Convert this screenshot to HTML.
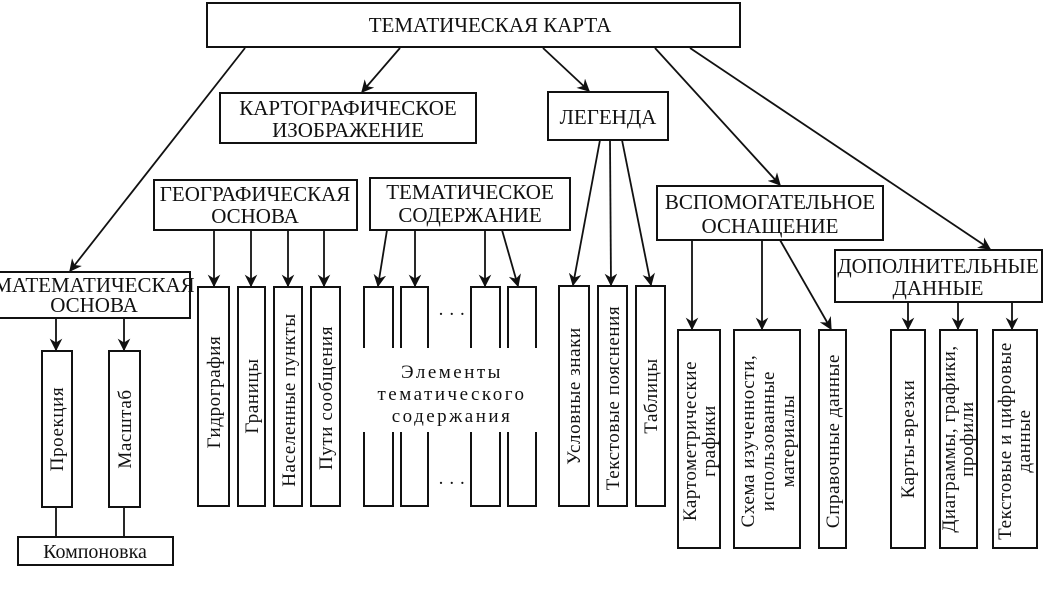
<!DOCTYPE html>
<html><head><meta charset="utf-8"><style>
body{margin:0;background:#fff;}
svg{display:block}
text{font-family:"Liberation Serif",serif;fill:#111;}
.b{fill:#fff;stroke:#111;stroke-width:2}
.l{stroke:#111;stroke-width:1.8;fill:none}
.h{font-size:21px;text-anchor:middle}
.v{font-size:19px;text-anchor:middle;letter-spacing:0.6px}
</style></head><body>
<svg width="1048" height="591" viewBox="0 0 1048 591" xmlns="http://www.w3.org/2000/svg">
<defs><marker id="a" viewBox="0 0 10 10" refX="9" refY="5" markerWidth="7" markerHeight="7" orient="auto"><path d="M0,0 L10,5 L0,10 L3,5 z" fill="#111"/></marker></defs>
<g class="l" marker-end="url(#a)">
<line x1="245" y1="48" x2="70" y2="271"/>
<line x1="400" y1="48" x2="362" y2="92"/>
<line x1="543" y1="48" x2="589" y2="91"/>
<line x1="655" y1="48" x2="780" y2="185"/>
<line x1="690" y1="48" x2="990" y2="249"/>
<line x1="214" y1="230" x2="214" y2="286"/>
<line x1="251" y1="230" x2="251" y2="286"/>
<line x1="288" y1="230" x2="288" y2="286"/>
<line x1="324" y1="230" x2="324" y2="286"/>
<line x1="387" y1="230" x2="378" y2="286"/>
<line x1="415" y1="230" x2="415" y2="286"/>
<line x1="485" y1="230" x2="485" y2="286"/>
<line x1="502" y1="230" x2="518" y2="286"/>
<line x1="600" y1="140" x2="573" y2="285"/>
<line x1="610" y1="140" x2="611" y2="285"/>
<line x1="622" y1="140" x2="651" y2="285"/>
<line x1="692" y1="240" x2="692" y2="329"/>
<line x1="762" y1="240" x2="762" y2="329"/>
<line x1="780" y1="240" x2="831" y2="329"/>
<line x1="908" y1="302" x2="908" y2="329"/>
<line x1="958" y1="302" x2="958" y2="329"/>
<line x1="1012" y1="302" x2="1012" y2="329"/>
<line x1="56" y1="318" x2="56" y2="350"/>
<line x1="124" y1="318" x2="124" y2="350"/>
</g>
<line class="l" x1="56" y1="507" x2="56" y2="537"/>
<line class="l" x1="124" y1="507" x2="124" y2="537"/>
<rect class="b" x="207" y="3" width="533" height="44"/>
<text class="h" x="490" y="32">ТЕМАТИЧЕСКАЯ КАРТА</text>
<rect class="b" x="220" y="93" width="256" height="50"/>
<text class="h" x="348" y="115">КАРТОГРАФИЧЕСКОЕ</text>
<text class="h" x="348" y="137">ИЗОБРАЖЕНИЕ</text>
<rect class="b" x="548" y="92" width="120" height="48"/>
<text class="h" x="608" y="124">ЛЕГЕНДА</text>
<rect class="b" x="154" y="180" width="203" height="50"/>
<text class="h" x="255" y="201">ГЕОГРАФИЧЕСКАЯ</text>
<text class="h" x="255" y="223">ОСНОВА</text>
<rect class="b" x="370" y="178" width="200" height="52"/>
<text class="h" x="470" y="199">ТЕМАТИЧЕСКОЕ</text>
<text class="h" x="470" y="222">СОДЕРЖАНИЕ</text>
<rect class="b" x="657" y="186" width="226" height="54"/>
<text class="h" x="770" y="209">ВСПОМОГАТЕЛЬНОЕ</text>
<text class="h" x="770" y="233">ОСНАЩЕНИЕ</text>
<rect class="b" x="835" y="250" width="207" height="52"/>
<text class="h" x="938" y="273">ДОПОЛНИТЕЛЬНЫЕ</text>
<text class="h" x="938" y="295">ДАННЫЕ</text>
<rect class="b" x="-2" y="272" width="192" height="46"/>
<text class="h" x="94" y="292">МАТЕМАТИЧЕСКАЯ</text>
<text class="h" x="94" y="312">ОСНОВА</text>
<rect class="b" x="18" y="537" width="155" height="28"/>
<text class="h" x="95" y="558" style="font-size:20px">Компоновка</text>
<g>
<rect class="b" x="42" y="351" width="30" height="156"/>
<rect class="b" x="109" y="351" width="31" height="156"/>
<rect class="b" x="198" y="287" width="31" height="219"/>
<rect class="b" x="238" y="287" width="27" height="219"/>
<rect class="b" x="274" y="287" width="28" height="219"/>
<rect class="b" x="311" y="287" width="29" height="219"/>
<rect class="b" x="364" y="287" width="29" height="219"/>
<rect class="b" x="401" y="287" width="27" height="219"/>
<rect class="b" x="471" y="287" width="29" height="219"/>
<rect class="b" x="508" y="287" width="28" height="219"/>
<rect x="360" y="348" width="180" height="84" fill="#fff"/>
<rect class="b" x="559" y="286" width="30" height="220"/>
<rect class="b" x="598" y="286" width="29" height="220"/>
<rect class="b" x="636" y="286" width="29" height="220"/>
<rect class="b" x="678" y="330" width="42" height="218"/>
<rect class="b" x="734" y="330" width="66" height="218"/>
<rect class="b" x="819" y="330" width="27" height="218"/>
<rect class="b" x="891" y="330" width="34" height="218"/>
<rect class="b" x="940" y="330" width="37" height="218"/>
<rect class="b" x="993" y="330" width="44" height="218"/>
</g>
<text x="452" y="315" class="v">. . .</text>
<text x="452" y="484" class="v">. . .</text>
<text class="v" x="452" y="378" style="letter-spacing:2.5px">Элементы</text>
<text class="v" x="452" y="400" style="letter-spacing:2.5px">тематического</text>
<text class="v" x="452" y="422" style="letter-spacing:2.5px">содержания</text>
<g>
<text class="v" transform="translate(63,429) rotate(-90)">Проекция</text>
<text class="v" transform="translate(131,429) rotate(-90)">Масштаб</text>
<text class="v" transform="translate(220,392) rotate(-90)">Гидрография</text>
<text class="v" transform="translate(258,396) rotate(-90)">Границы</text>
<text class="v" transform="translate(295,400) rotate(-90)">Населенные пункты</text>
<text class="v" transform="translate(332,398) rotate(-90)">Пути сообщения</text>
<text class="v" transform="translate(580,396) rotate(-90)">Условные знаки</text>
<text class="v" transform="translate(619,398) rotate(-90)">Текстовые пояснения</text>
<text class="v" transform="translate(657,396) rotate(-90)">Таблицы</text>
<text class="v" transform="translate(696,441) rotate(-90)">Картометрические</text>
<text class="v" transform="translate(715,441) rotate(-90)">графики</text>
<text class="v" transform="translate(754,441) rotate(-90)">Схема изученности,</text>
<text class="v" transform="translate(774,441) rotate(-90)">использованные</text>
<text class="v" transform="translate(794,441) rotate(-90)">материалы</text>
<text class="v" transform="translate(839,441) rotate(-90)">Справочные данные</text>
<text class="v" transform="translate(914,439) rotate(-90)">Карты-врезки</text>
<text class="v" transform="translate(955,439) rotate(-90)">Диаграммы, графики,</text>
<text class="v" transform="translate(973,439) rotate(-90)">профили</text>
<text class="v" transform="translate(1011,441) rotate(-90)">Текстовые и цифровые</text>
<text class="v" transform="translate(1030,441) rotate(-90)">данные</text>
</g>
</svg>
</body></html>
